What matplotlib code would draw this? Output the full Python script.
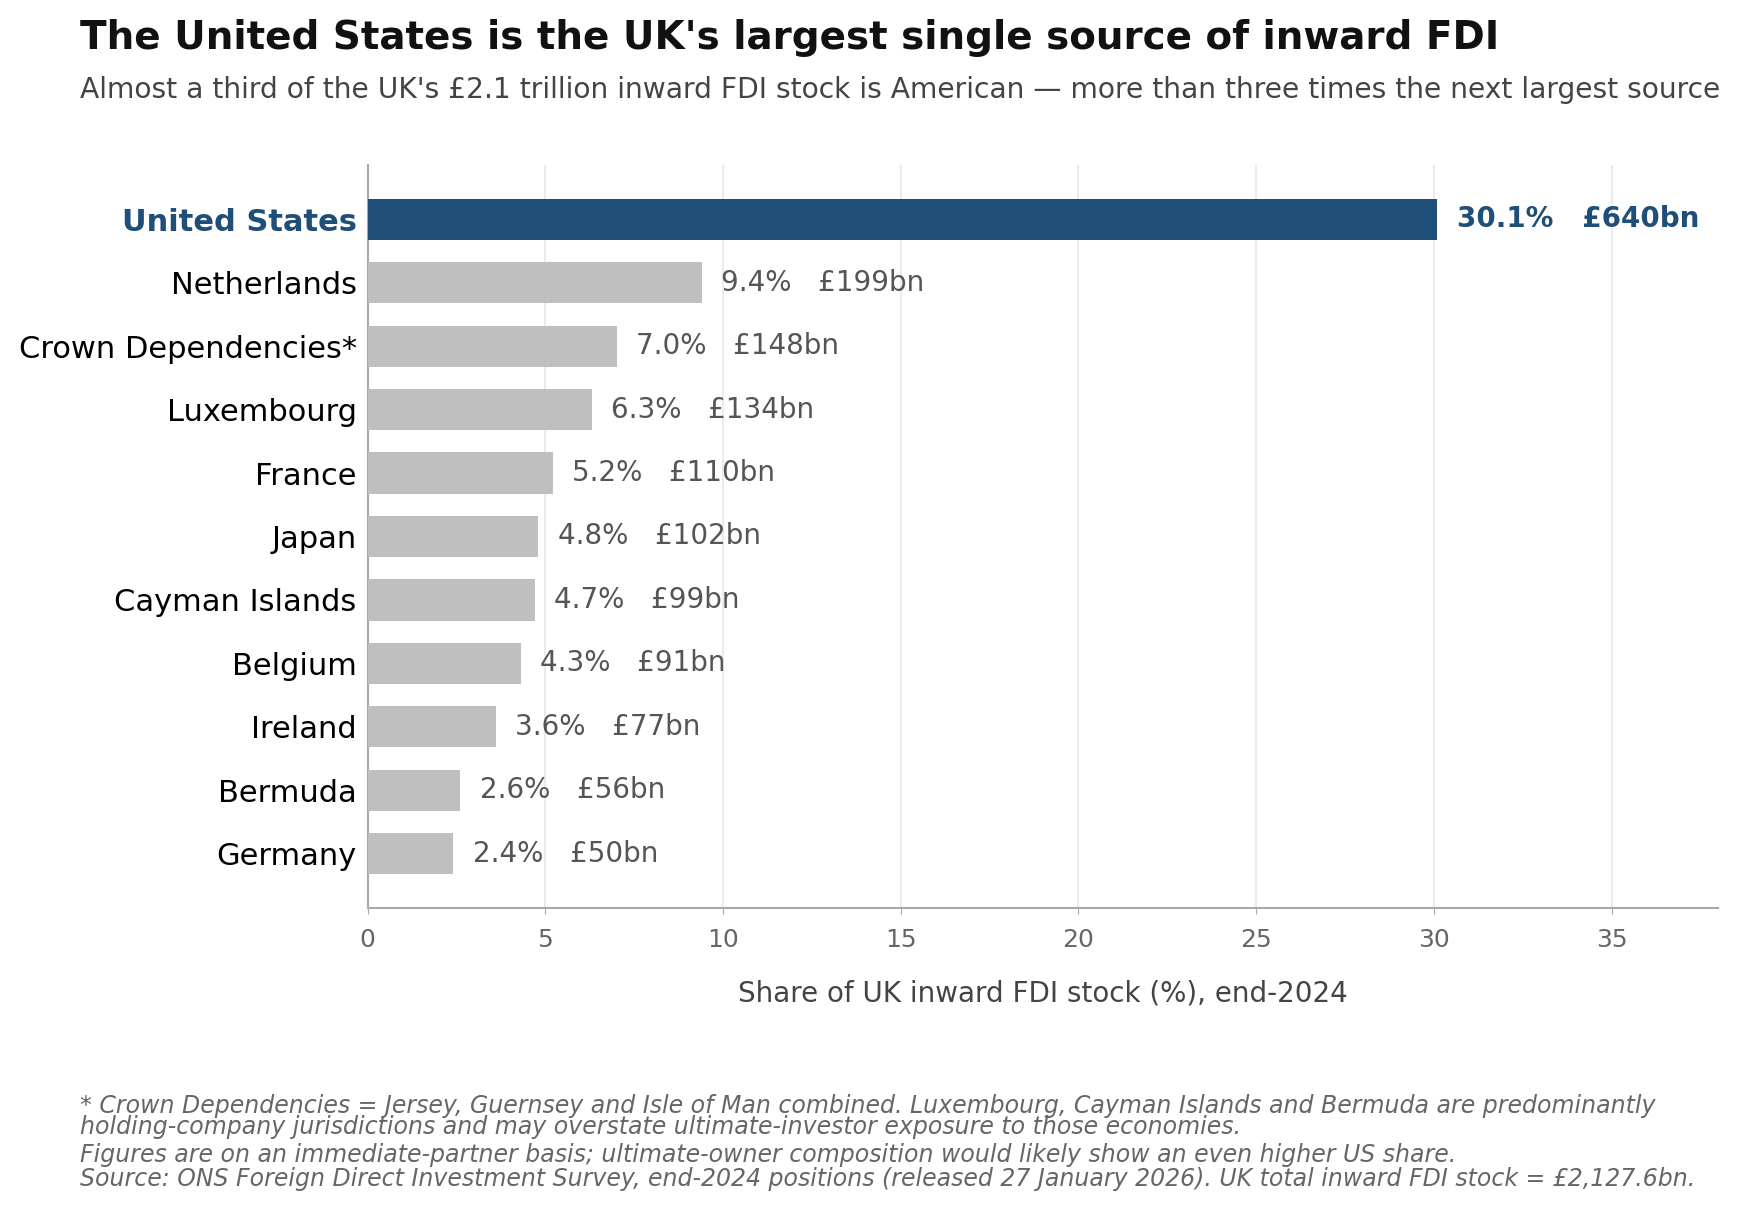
import matplotlib
matplotlib.use('Agg')
import matplotlib.pyplot as plt

countries = ['United States', 'Netherlands', 'Crown Dependencies*', 'Luxembourg', 'France',
             'Japan', 'Cayman Islands', 'Belgium', 'Ireland', 'Bermuda', 'Germany']
share_pct = [30.1, 9.4, 7.0, 6.3, 5.2, 4.8, 4.7, 4.3, 3.6, 2.6, 2.4]
stock_bn = [640, 199, 148, 134, 110, 102, 99, 91, 77, 56, 50]
xticks = [0, 5, 10, 15, 20, 25, 30, 35]

NAVY = '#1f4e79'
GREY = '#bfbfbf'

plt.rcParams['font.family'] = 'DejaVu Sans'

fig = plt.figure(figsize=(17.47, 12.11), dpi=100)
ax = fig.add_axes([0.2105, 0.25, 0.773, 0.614])

y = list(range(len(countries)))
colors = [NAVY] + [GREY] * (len(countries) - 1)
ax.barh(y, share_pct, height=0.65, color=colors, zorder=3)

for i, (p, v) in enumerate(zip(share_pct, stock_bn)):
    if i == 0:
        ax.text(p + 0.55, i, f'{p:.1f}%   £{v}bn', va='center', ha='left',
                fontsize=20, fontweight='bold', color=NAVY)
    else:
        ax.text(p + 0.55, i, f'{p:.1f}%   £{v}bn', va='center', ha='left',
                fontsize=20, color='#555555')

ax.set_yticks(y)
ax.set_yticklabels(countries, fontsize=22)
ax.get_yticklabels()[0].set_color(NAVY)
ax.get_yticklabels()[0].set_fontweight('bold')
ax.set_ylim(len(countries) - 1 + 0.86, -0.86)
ax.set_xlim(0, 38)
ax.set_xticks(xticks)
ax.tick_params(axis='x', labelsize=18, colors='#666666', length=4, color='#aaaaaa', pad=10)
ax.tick_params(axis='y', length=0, pad=8)
ax.xaxis.grid(True, color='#e8e8e8', linewidth=1.2, zorder=0)
ax.set_axisbelow(True)
for s in ['top', 'right']:
    ax.spines[s].set_visible(False)
for s in ['left', 'bottom']:
    ax.spines[s].set_color('#aaaaaa')
    ax.spines[s].set_linewidth(1.5)
ax.set_xlabel('Share of UK inward FDI stock (%), end-2024', fontsize=20, color='#444444', labelpad=20)

fig.text(0.046, 0.984, "The United States is the UK's largest single source of inward FDI",
         fontsize=28, fontweight='bold', color='#111111', va='top')
fig.text(0.046, 0.937, "Almost a third of the UK's £2.1 trillion inward FDI stock is American — more than three times the next largest source",
         fontsize=20.25, color='#444444', va='top')

foot_lines = [
    "* Crown Dependencies = Jersey, Guernsey and Isle of Man combined. Luxembourg, Cayman Islands and Bermuda are predominantly",
    "holding-company jurisdictions and may overstate ultimate-investor exposure to those economies.",
    "Figures are on an immediate-partner basis; ultimate-owner composition would likely show an even higher US share.",
    "Source: ONS Foreign Direct Investment Survey, end-2024 positions (released 27 January 2026). UK total inward FDI stock = £2,127.6bn.",
]
foot_y = [0.0809, 0.0636, 0.0405, 0.0206]
for line, fy in zip(foot_lines, foot_y):
    fig.text(0.046, fy, line, fontsize=17, style='italic', color='#666666', va='baseline')

fig.savefig('out.png', dpi=100)
